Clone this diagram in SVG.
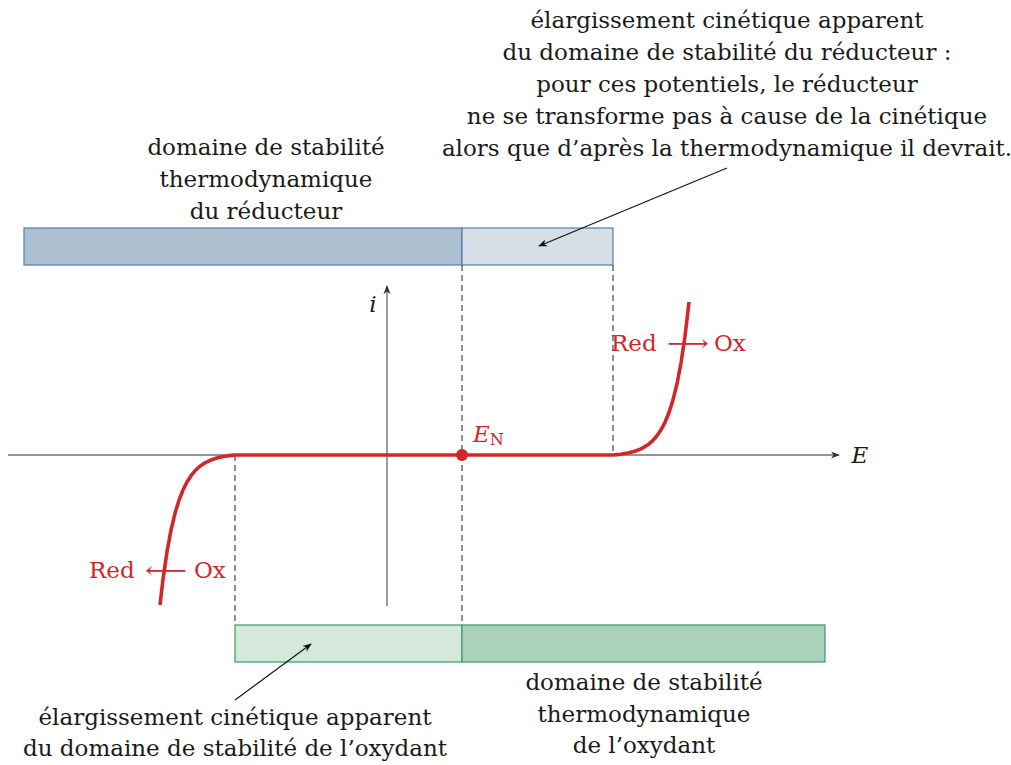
<svg xmlns="http://www.w3.org/2000/svg" width="1011" height="765" viewBox="0 0 1011 765">
<style>
text{font-family:"DejaVu Serif","Liberation Serif",serif;font-size:23px;fill:#1a1a1a;text-anchor:middle}
.red{fill:#d0282a}
.st{text-anchor:start}
.it{font-style:italic}
.axis{stroke:#707070;stroke-width:1.4;fill:none}
.dash{stroke:#333;stroke-width:1.1;stroke-dasharray:6 4;fill:none}
.curve{stroke:#d0282a;stroke-width:3.6;fill:none;stroke-linejoin:round;stroke-linecap:butt}
.ptr{stroke:#111;stroke-width:1.1;fill:none}
.bb{stroke:#4f7fae;stroke-width:1.2}
.gb{stroke:#3d9a62;stroke-width:1.2}
</style>
<defs>
<marker id="ah" viewBox="0 0 10 10" refX="9" refY="5" markerWidth="9" markerHeight="9" markerUnits="userSpaceOnUse" orient="auto">
<path d="M0,1 L10,5 L0,9 L3,5 Z" fill="#111"/>
</marker>
<marker id="ahg" viewBox="0 0 10 10" refX="9" refY="5" markerWidth="9" markerHeight="9" markerUnits="userSpaceOnUse" orient="auto">
<path d="M0,1 L10,5 L0,9 L3,5 Z" fill="#333"/>
</marker>
</defs>

<g id="bar-reducteur">
<rect x="24" y="228" width="438" height="37" fill="#adc0d0" class="bb"/>
<rect x="462" y="228" width="151" height="37" fill="#d6dfe8" class="bb"/>
</g>
<g id="bar-oxydant">
<rect x="235" y="625" width="227" height="37" fill="#d4e8dc" class="gb"/>
<rect x="462" y="625" width="363" height="37" fill="#a9d1bb" class="gb"/>
</g>

<g id="axes">
<line x1="8" y1="455" x2="839" y2="455" class="axis" marker-end="url(#ahg)"/>
<line x1="387" y1="606" x2="387" y2="286" class="axis" marker-end="url(#ahg)"/>
<text x="373" y="312" class="it">i</text>
<text x="860" y="463" class="it">E</text>
</g>

<g id="connectors">
<line x1="235" y1="455" x2="235" y2="625" class="dash"/>
<line x1="462" y1="265" x2="462" y2="625" class="dash"/>
<line x1="613" y1="265" x2="613" y2="455" class="dash"/>
<line x1="727" y1="168" x2="539" y2="246" class="ptr" marker-end="url(#ah)"/>
<line x1="235" y1="700" x2="311" y2="644" class="ptr" marker-end="url(#ah)"/>
</g>

<g id="courbe">
<polyline class="curve" points="160,605 163,579.3 167,551.7 171,530.1 175,513.3 179,500.2 183,490 187,482 191,475.7 195,470.8 199,467 203,464.1 207,461.8 211,460 215,458.6 219,457.5 223,456.6 227,455.9 231,455.4 235,455 613,455 617,454.6 621,454.2 625,453.5 629,452.8 633,451.7 637,450.5 641,448.8 645,446.6 649,443.9 653,440.3 657,435.7 661,429.8 665,422.3 669,412.5 673,399.9 677,383.8 681,363 685,336.3 689,302"/>
<circle cx="462" cy="455" r="6" fill="#d0282a"/>
<text x="473" y="442" class="red it st">E<tspan font-size="16" font-style="normal" dy="3">N</tspan></text>
</g>

<g id="label-ox">
<text y="351" class="red st"><tspan x="611">Red</tspan><tspan x="667" textLength="42" lengthAdjust="spacingAndGlyphs">⟶</tspan><tspan x="714">Ox</tspan></text>
</g>
<g id="label-red">
<text y="578" class="red st"><tspan x="89">Red</tspan><tspan x="145" textLength="42" lengthAdjust="spacingAndGlyphs">⟵</tspan><tspan x="194">Ox</tspan></text>
</g>

<g id="txt-reducteur">
<text x="266" y="155">domaine de stabilité</text>
<text x="266" y="187">thermodynamique</text>
<text x="266" y="219">du réducteur</text>
</g>
<g id="txt-cinetique-red">
<text x="727" y="28">élargissement cinétique apparent</text>
<text x="727" y="60">du domaine de stabilité du réducteur :</text>
<text x="727" y="92">pour ces potentiels, le réducteur</text>
<text x="727" y="124">ne se transforme pas à cause de la cinétique</text>
<text x="727" y="156">alors que d’après la thermodynamique il devrait.</text>
</g>
<g id="txt-oxydant">
<text x="644" y="690">domaine de stabilité</text>
<text x="644" y="722">thermodynamique</text>
<text x="644" y="753">de l’oxydant</text>
</g>
<g id="txt-cinetique-ox">
<text x="235" y="725">élargissement cinétique apparent</text>
<text x="235" y="756">du domaine de stabilité de l’oxydant</text>
</g>
</svg>
